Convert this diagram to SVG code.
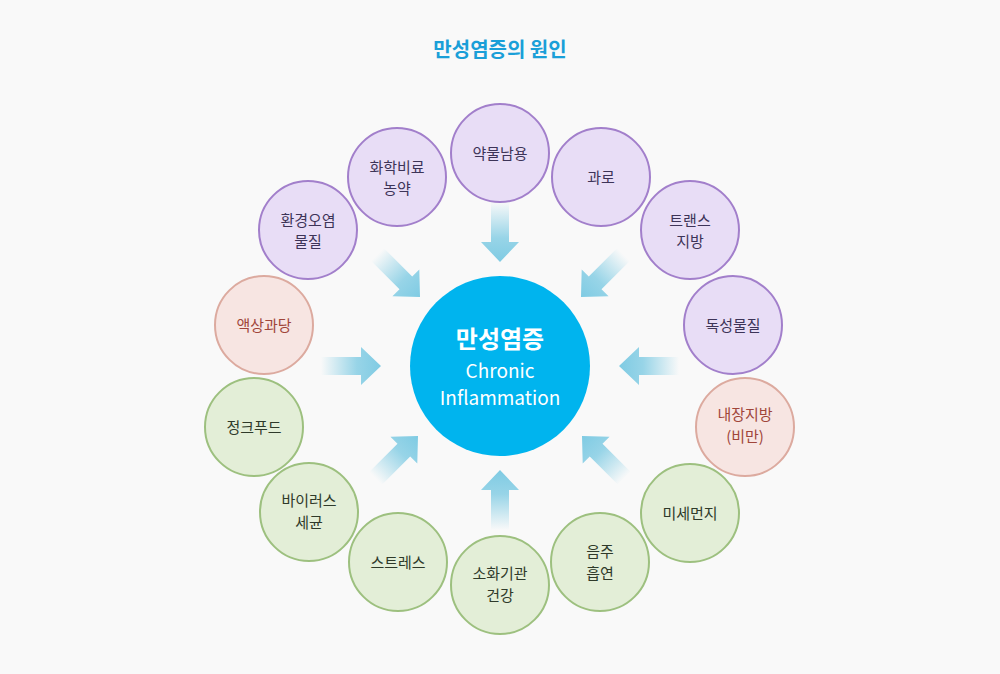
<svg xmlns="http://www.w3.org/2000/svg" xmlns:xlink="http://www.w3.org/1999/xlink" width="1000" height="674" viewBox="0 0 1000 674">
<style>
text{font-family:"Noto Sans CJK KR","Noto Sans",sans-serif;text-anchor:middle}
.n text{font-size:15px}
.p circle{fill:#e8ddf6;stroke:#a27fcb;stroke-width:2}
.p text{fill:#3d3458}
.k circle{fill:#f7e5e2;stroke:#dcaa9f;stroke-width:2}
.k text{fill:#a0453a}
.g circle{fill:#e3eed7;stroke:#9dc07f;stroke-width:2}
.g text{fill:#2f3a2a}
</style>
<defs>
<linearGradient id="ag" x1="0" y1="0" x2="1" y2="0">
<stop offset="0" stop-color="#7fcbe3" stop-opacity="0"/>
<stop offset="0.6" stop-color="#7fcbe3" stop-opacity="0.8"/>
<stop offset="1" stop-color="#7fcbe3"/>
</linearGradient>
<path id="ar" d="M-60,-9 H-20 V-19 L0,0 L-20,19 V9 H-60 Z" fill="url(#ag)"/>
</defs>
<rect width="1000" height="674" fill="#f9f9f9"/>
<text x="500" y="57" font-size="20" font-weight="bold" fill="#1a9fd8">만성염증의 원인</text>
<g id="connectors">
<use xlink:href="#ar" transform="translate(500,262) rotate(90)"/>
<use xlink:href="#ar" transform="translate(420,297) rotate(45)"/>
<use xlink:href="#ar" transform="translate(581,297) rotate(135)"/>
<use xlink:href="#ar" transform="translate(381,366)"/>
<use xlink:href="#ar" transform="translate(619,366) rotate(180)"/>
<use xlink:href="#ar" transform="translate(418,436) rotate(-45)"/>
<use xlink:href="#ar" transform="translate(500,470) rotate(-90)"/>
<use xlink:href="#ar" transform="translate(582,436) rotate(-135)"/>
</g>
<g id="center">
<circle cx="500" cy="366" r="90" fill="#00b4ee"/>
<text x="500" y="348" font-size="24" font-weight="bold" fill="#fff">만성염증</text>
<text x="500" y="378" font-size="19" fill="#fff">Chronic</text>
<text x="500" y="405" font-size="19" fill="#fff">Inflammation</text>
</g>
<g id="n1" class="n p"><circle cx="308" cy="230" r="49"/><text x="308" y="226">환경오염</text><text x="308" y="247">물질</text></g>
<g id="n2" class="n p"><circle cx="397" cy="177" r="49"/><text x="397" y="173">화학비료</text><text x="397" y="194">농약</text></g>
<g id="n3" class="n p"><circle cx="500" cy="153" r="49"/><text x="500" y="159">약물남용</text></g>
<g id="n4" class="n p"><circle cx="601" cy="177" r="49"/><text x="601" y="183">과로</text></g>
<g id="n5" class="n p"><circle cx="690" cy="230" r="49"/><text x="690" y="226">트랜스</text><text x="690" y="247">지방</text></g>
<g id="n6" class="n p"><circle cx="733" cy="325" r="49"/><text x="733" y="331">독성물질</text></g>
<g id="n7" class="n k"><circle cx="745" cy="427" r="49"/><text x="745" y="420">내장지방</text><text x="745" y="442">(비만)</text></g>
<g id="n8" class="n g"><circle cx="690" cy="513" r="49"/><text x="690" y="519">미세먼지</text></g>
<g id="n9" class="n g"><circle cx="600" cy="562" r="49"/><text x="600" y="557">음주</text><text x="600" y="579">흡연</text></g>
<g id="n10" class="n g"><circle cx="500" cy="585" r="49"/><text x="500" y="579">소화기관</text><text x="500" y="601">건강</text></g>
<g id="n11" class="n g"><circle cx="398" cy="562" r="49"/><text x="398" y="568">스트레스</text></g>
<g id="n12" class="n g"><circle cx="309" cy="512" r="49"/><text x="309" y="506">바이러스</text><text x="309" y="528">세균</text></g>
<g id="n13" class="n g"><circle cx="254" cy="427" r="49"/><text x="254" y="433">정크푸드</text></g>
<g id="n14" class="n k"><circle cx="264" cy="325" r="49"/><text x="264" y="331">액상과당</text></g>
</svg>
